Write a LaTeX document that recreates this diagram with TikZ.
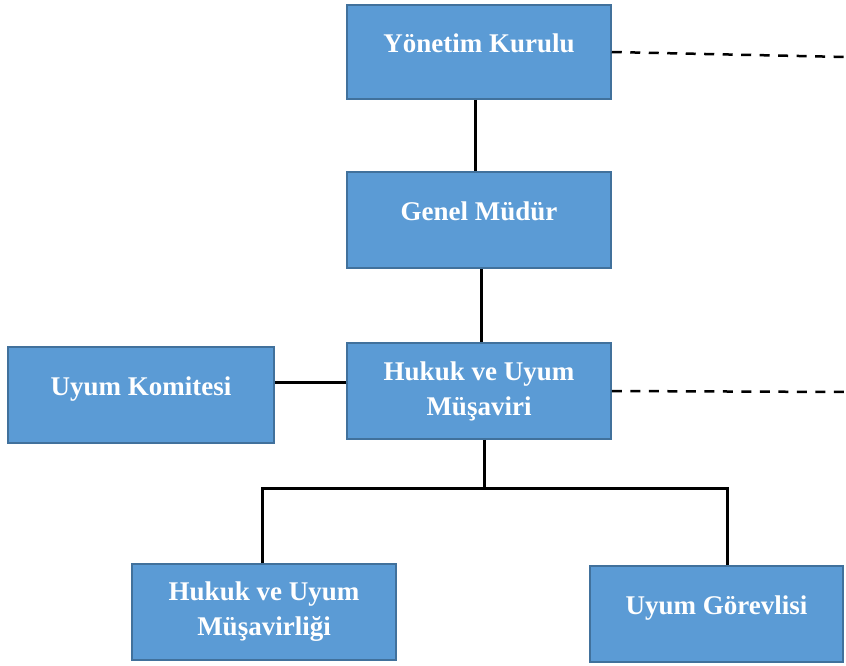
\documentclass[tikz,border=0pt]{standalone}
\usepackage{fontspec}
\setmainfont{Liberation Serif}
\definecolor{boxfill}{HTML}{5B9BD5}
\definecolor{boxline}{HTML}{41719C}
\begin{document}
\begin{tikzpicture}[x=1pt,y=-1pt,
  box/.style={rectangle, fill=boxfill, draw=boxline, line width=1.5pt,
    text=white, font=\fontsize{27}{35}\selectfont\bfseries, align=center,
    minimum width=264pt, minimum height=96pt, inner sep=0pt},
  oneline/.style={text height=18pt, text depth=18pt},
  conn/.style={draw=black, line width=3pt},
  dconn/.style={draw=black, line width=2.5pt, dash pattern=on 10pt off 8.5pt}]
\useasboundingbox (0,0) rectangle (846,665);
\node[box, oneline, minimum height=94pt] (yk) at (479,52) {Yönetim Kurulu};
\node[box, oneline] (gm) at (479,220) {Genel Müdür};
\node[box] (hum) at (479,391) {Hukuk ve Uyum\\Müşaviri};
\node[box, oneline, minimum width=266pt] (uk) at (141,395) {Uyum Komitesi};
\node[box] (huml) at (264,612) {Hukuk ve Uyum\\Müşavirliği};
\node[box, oneline, minimum width=253pt] (ug) at (716.5,614) {Uyum Görevlisi};
\coordinate (j) at (484,488);
\coordinate (d1) at (846,57);
\coordinate (d2) at (846,392);
\draw[conn] ([xshift=-4pt]yk.south) -- ([xshift=-4pt]gm.north);
\draw[conn] ([xshift=2pt]gm.south) -- ([xshift=2pt]hum.north);
\draw[conn] ([yshift=9pt]hum.west) -- ([yshift=9pt]hum.west -| uk.east);
\draw[conn] ([xshift=5pt]hum.south) -- (j);
\draw[conn] ([xshift=-2pt]huml.north) |- (j) -| ([xshift=10.5pt]ug.north);
\draw[dconn] (yk.east) -- (d1);
\draw[dconn] (hum.east) -- (d2);
\end{tikzpicture}
\end{document}
